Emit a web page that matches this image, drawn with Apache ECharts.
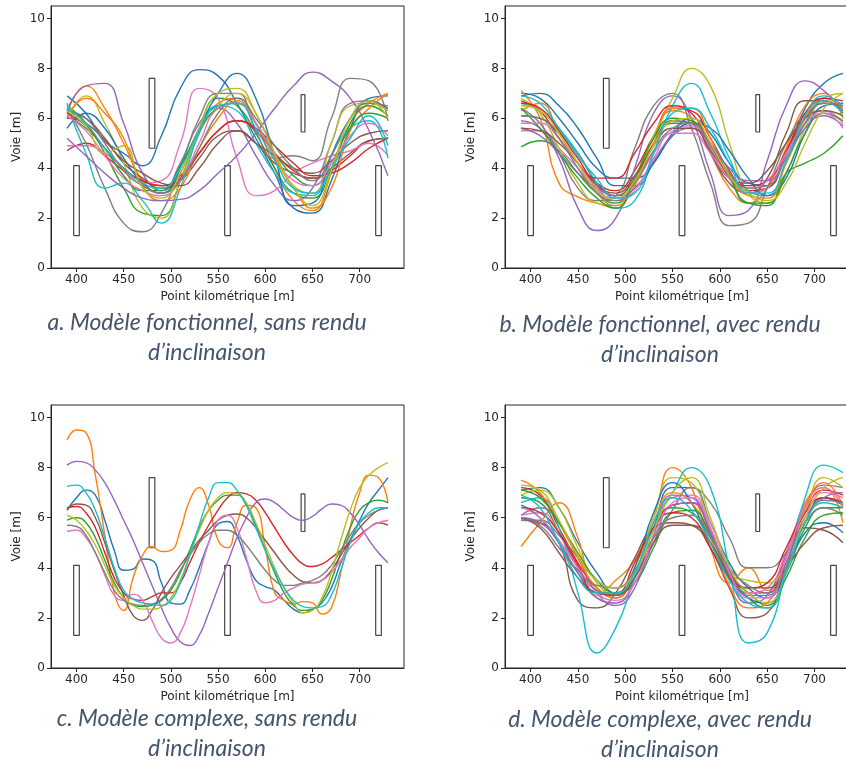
<!DOCTYPE html>
<html>
<head>
<meta charset="utf-8">
<script src="https://cdn.jsdelivr.net/npm/echarts@6/dist/echarts.min.js"></script>
<style>
  html, body { margin: 0; padding: 0; background: #fff; }
  #chart { width: 846px; height: 760px; }
</style>
</head>
<body>
<div id="chart"></div>
<script>
// abscisses communes (point kilometrique)
var xs20 = [390, 410, 430, 450, 470, 490, 510, 530, 550, 570, 590, 610, 630, 650, 670, 690, 710, 730];
var xs10 = [390, 400, 410, 420, 430, 440, 450, 460, 470, 480, 490, 500, 510, 520, 530, 540, 550, 560,
            570, 580, 590, 600, 610, 620, 630, 640, 650, 660, 670, 680, 690, 700, 710, 720, 730];

var xTicks = [400, 450, 500, 550, 600, 650, 700];
var yTicks = [0, 2, 4, 6, 8, 10];

// obstacles (cones)
var obstX0 = [397, 477, 557, 638, 717];
var obstX1 = [403, 483, 563, 642, 723];
var obstY0 = [1.3, 4.8, 1.3, 5.45, 1.3];
var obstY1 = [4.1, 7.6, 4.1, 6.95, 4.1];

// a. modele fonctionnel, sans rendu d'inclinaison
var voieA = [
  [6.9, 6.2, 5.1, 4.6, 4.1, 5.3, 7.2, 7.95, 7.7, 6.6, 5.2, 3.8, 2.4, 2.2, 3.5, 5.6, 6.8, 6.9],
  [6.2, 7.3, 6.4, 5.0, 3.5, 3.0, 3.8, 5.5, 6.6, 6.8, 5.8, 4.0, 2.7, 2.3, 3.8, 5.8, 6.6, 7.0],
  [6.5, 5.8, 4.6, 3.2, 2.2, 2.1, 3.5, 5.6, 6.8, 6.5, 5.4, 4.0, 3.0, 2.8, 4.0, 5.8, 6.5, 6.1],
  [4.7, 5.0, 4.5, 3.9, 3.5, 3.3, 3.7, 4.6, 5.5, 5.9, 5.5, 4.6, 3.9, 3.6, 3.9, 4.5, 5.1, 5.2],
  [6.3, 7.3, 7.4, 5.8, 3.8, 3.1, 4.2, 5.8, 6.4, 5.8, 4.5, 3.3, 2.7, 3.2, 5.0, 6.6, 6.7, 6.3],
  [6.2, 6.0, 5.2, 4.2, 3.6, 3.2, 3.5, 4.4, 5.3, 5.5, 5.0, 4.2, 3.8, 3.6, 4.0, 4.6, 5.1, 5.2],
  [4.9, 4.9, 4.6, 4.0, 3.4, 3.5, 5.0, 7.2, 6.8, 4.4, 2.9, 3.1, 3.8, 4.2, 4.5, 4.7, 5.0, 4.5],
  [6.4, 5.0, 3.2, 1.8, 1.45, 2.2, 4.0, 6.0, 7.0, 7.0, 5.5, 4.4, 4.5, 4.3, 6.0, 7.6, 7.5, 5.9],
  [6.0, 6.9, 5.8, 4.2, 2.4, 2.0, 3.5, 5.4, 6.5, 7.0, 6.2, 4.6, 3.3, 3.0, 5.0, 6.5, 6.6, 6.3],
  [6.6, 4.6, 3.2, 3.4, 2.7, 1.8, 3.2, 5.4, 6.5, 6.3, 5.0, 3.8, 3.0, 2.9, 4.5, 5.6, 5.9, 4.4],
  [5.6, 6.2, 5.6, 4.4, 3.4, 3.0, 4.0, 5.6, 7.0, 7.8, 6.8, 4.5, 2.5, 2.6, 4.5, 6.0, 6.7, 6.4],
  [6.0, 6.8, 6.2, 5.2, 3.3, 2.7, 3.2, 4.8, 6.0, 6.7, 5.8, 4.4, 3.2, 2.4, 3.2, 5.5, 6.4, 7.0],
  [6.1, 5.6, 4.8, 3.7, 3.1, 3.1, 4.1, 5.5, 6.4, 6.6, 5.8, 4.6, 3.7, 3.3, 4.2, 5.6, 6.2, 6.0],
  [6.2, 5.7, 4.8, 4.0, 3.5, 3.3, 3.6, 4.6, 5.5, 5.9, 5.6, 4.9, 4.2, 3.7, 3.8, 4.2, 4.8, 5.2],
  [5.2, 4.5, 3.8, 3.2, 2.8, 2.7, 2.75, 3.1, 3.8, 4.5, 5.4, 6.4, 7.3, 7.85, 7.5, 6.8, 5.5, 3.7],
  [6.0, 5.8, 5.1, 4.3, 3.8, 3.4, 3.3, 4.0, 5.0, 5.5, 5.0, 4.5, 4.0, 3.8, 4.3, 5.0, 5.4, 5.5],
  [6.1, 5.5, 4.5, 3.6, 3.1, 2.9, 3.5, 5.0, 6.4, 6.6, 5.8, 4.5, 3.5, 3.3, 4.2, 5.3, 5.8, 5.3],
  [6.3, 6.0, 5.0, 3.9, 3.3, 3.0, 3.5, 4.8, 6.2, 6.8, 6.0, 4.9, 4.0, 3.5, 4.5, 6.0, 6.6, 6.5],
  [6.3, 5.7, 4.6, 4.9, 3.2, 2.8, 3.8, 5.6, 7.0, 7.2, 6.2, 4.6, 3.2, 2.5, 3.9, 6.0, 6.7, 6.0],
  [6.4, 5.8, 4.8, 4.0, 3.4, 3.2, 4.0, 5.5, 6.5, 6.6, 5.6, 4.3, 3.2, 3.0, 4.0, 5.2, 6.1, 4.9]
];

// b. modele fonctionnel, avec rendu d'inclinaison
var voieB = [
  [7.0, 6.8, 6.0, 5.0, 4.0, 3.6, 3.6, 4.2, 5.4, 6.0, 5.4, 4.2, 3.4, 3.3, 4.6, 6.4, 7.4, 7.8],
  [7.1, 6.0, 3.4, 2.85, 2.6, 2.4, 3.6, 5.2, 6.3, 6.0, 4.6, 3.2, 2.6, 3.2, 4.8, 6.5, 7.0, 6.0],
  [4.85, 5.1, 4.7, 3.8, 3.0, 2.6, 3.5, 4.9, 5.8, 5.8, 4.8, 3.6, 2.6, 2.5, 3.8, 4.2, 4.6, 5.3],
  [6.7, 6.3, 5.2, 4.2, 3.4, 3.1, 3.9, 5.3, 6.4, 6.3, 5.2, 3.9, 3.1, 3.2, 4.6, 6.0, 6.6, 6.5],
  [5.9, 5.6, 4.4, 2.4, 1.5, 2.0, 4.0, 6.2, 6.9, 6.0, 3.8, 2.1, 2.3, 4.3, 6.5, 7.5, 7.1, 6.3],
  [6.1, 6.0, 5.4, 4.6, 3.4, 2.9, 3.6, 5.0, 5.9, 5.8, 4.6, 3.4, 3.0, 3.6, 5.4, 6.7, 6.7, 6.2],
  [5.5, 5.5, 4.8, 4.0, 3.1, 2.8, 3.4, 4.6, 5.5, 5.7, 4.8, 3.7, 3.0, 3.2, 4.5, 5.8, 6.3, 5.8],
  [6.4, 5.8, 4.6, 3.2, 2.7, 2.9, 4.8, 6.5, 7.0, 5.6, 3.4, 1.7, 1.8, 3.2, 5.0, 6.2, 6.7, 6.3],
  [6.8, 6.2, 4.8, 3.4, 2.6, 2.5, 3.6, 5.3, 6.8, 8.0, 7.3, 5.0, 3.0, 2.6, 3.8, 5.6, 6.8, 7.0],
  [6.6, 6.3, 5.6, 4.6, 3.4, 2.4, 2.7, 4.6, 6.5, 7.4, 6.2, 4.4, 3.1, 2.9, 4.2, 5.8, 6.7, 6.2],
  [6.9, 7.0, 6.5, 5.6, 4.4, 3.3, 3.3, 4.2, 5.3, 5.8, 5.6, 4.7, 3.6, 2.9, 3.6, 5.4, 6.5, 6.6],
  [6.3, 6.6, 5.4, 4.2, 3.0, 2.5, 3.3, 5.0, 6.4, 6.4, 5.2, 3.7, 2.9, 2.8, 4.2, 6.0, 6.8, 6.4],
  [6.4, 5.6, 4.6, 3.6, 2.8, 2.4, 3.6, 5.2, 6.0, 5.9, 5.0, 3.7, 2.6, 2.6, 3.8, 5.4, 6.2, 5.9],
  [6.6, 6.4, 5.5, 4.4, 3.6, 3.6, 4.6, 5.8, 6.5, 6.2, 5.0, 3.7, 3.3, 3.5, 4.7, 6.2, 6.8, 6.7],
  [5.6, 5.3, 4.6, 3.8, 3.2, 2.9, 3.2, 4.3, 5.3, 5.6, 5.0, 4.0, 3.5, 3.5, 4.4, 5.6, 6.1, 5.7],
  [5.6, 5.5, 5.0, 4.2, 3.3, 3.0, 3.7, 4.9, 5.6, 5.6, 4.7, 3.6, 3.4, 3.9, 5.0, 6.0, 6.3, 6.1],
  [5.8, 5.8, 5.2, 4.2, 3.2, 2.7, 3.1, 4.4, 5.4, 5.4, 4.6, 3.6, 3.2, 3.5, 4.6, 5.8, 6.2, 5.6],
  [6.1, 6.0, 5.2, 4.0, 3.0, 2.7, 3.4, 4.7, 5.6, 5.8, 4.9, 3.8, 3.2, 3.3, 4.4, 5.8, 6.6, 6.5],
  [6.5, 6.3, 5.4, 4.2, 3.1, 2.8, 3.5, 4.9, 5.9, 6.0, 5.0, 3.7, 3.0, 2.7, 3.4, 5.0, 6.4, 7.0],
  [6.9, 6.6, 5.6, 4.5, 3.6, 2.8, 3.0, 4.6, 6.2, 6.4, 5.6, 4.2, 3.0, 3.0, 4.3, 6.1, 6.9, 6.5]
];

// c. modele complexe, sans rendu d'inclinaison (pas de 10 m)
var voieC = [
  [6.3, 6.8, 7.1, 6.9, 5.9, 4.7, 3.9, 3.95, 4.35, 4.3, 3.4, 2.6, 2.55, 3.1, 4.0, 5.0, 5.75, 5.85,
   5.3, 4.3, 3.5, 3.25, 3.1, 2.7, 2.35, 2.2, 2.35, 2.6, 3.2, 4.2, 5.1, 5.9, 6.6, 7.1, 7.6],
  [9.1, 9.5, 9.4, 7.7, 5.3, 3.0, 2.3, 3.6, 4.5, 4.85, 4.65, 4.7, 5.5, 6.7, 7.2, 6.5, 5.1, 4.8,
   5.8, 6.5, 6.4, 4.8, 3.0, 2.7, 2.55, 2.65, 2.6, 2.15, 2.4, 3.8, 5.6, 7.0, 7.7, 7.6, 6.6],
  [5.9, 6.0, 5.8, 5.2, 4.3, 3.4, 2.8, 2.5, 2.45, 2.5, 2.7, 3.1, 3.8, 4.7, 5.6, 6.3, 6.7, 6.9,
   6.9, 6.5, 5.7, 4.7, 3.8, 3.0, 2.5, 2.3, 2.35, 2.7, 3.5, 4.6, 5.6, 6.3, 6.6, 6.7, 6.6],
  [6.4, 6.45, 6.2, 5.6, 4.6, 3.6, 3.0, 2.75, 2.7, 2.85, 3.0, 3.0, 3.4, 4.2, 5.0, 5.7, 6.3, 6.8,
   7.0, 6.95, 6.7, 6.2, 5.6, 5.0, 4.5, 4.15, 4.05, 4.15, 4.4, 4.7, 5.0, 5.3, 5.6, 5.8, 5.7],
  [8.1, 8.25, 8.2, 7.9, 7.4, 6.7, 5.9, 5.1, 4.2, 3.3, 2.4, 1.6, 1.05, 0.9, 1.3, 2.2, 3.2, 4.2,
   5.2, 6.0, 6.6, 6.75, 6.6, 6.3, 6.0, 5.9, 6.05, 6.35, 6.55, 6.5, 6.2, 5.7, 5.1, 4.6, 4.2],
  [6.3, 6.55, 6.5, 6.0, 5.0, 3.9, 2.9, 2.1, 1.9, 2.3, 3.0, 3.6, 4.1, 4.6, 5.1, 5.5, 5.9, 6.1,
   6.15, 6.0, 5.6, 5.1, 4.6, 4.1, 3.7, 3.45, 3.4, 3.5, 3.9, 4.5, 5.1, 5.6, 6.0, 6.3, 6.4],
  [5.45, 5.5, 5.2, 4.6, 3.7, 2.9, 2.7, 2.95, 2.7, 1.9, 1.2, 1.0, 1.4, 2.4, 3.7, 5.0, 5.9, 6.1,
   5.6, 4.4, 3.1, 2.6, 2.7, 3.0, 3.2, 3.35, 3.4, 3.5, 3.8, 4.3, 4.8, 5.2, 5.6, 5.8, 5.9],
  [5.7, 5.65, 5.3, 4.6, 3.8, 3.1, 2.7, 2.55, 2.5, 2.55, 2.75, 3.2, 3.9, 4.5, 5.0, 5.35, 5.5, 5.5,
   5.3, 4.9, 4.4, 3.9, 3.5, 3.3, 3.3, 3.4, 3.5, 3.7, 4.1, 4.7, 5.3, 5.8, 6.1, 6.3, 6.4],
  [6.1, 5.9, 5.5, 4.9, 4.1, 3.3, 2.8, 2.5, 2.35, 2.35, 2.45, 2.8, 3.5, 4.5, 5.5, 6.3, 6.8, 7.0,
   6.95, 6.6, 5.8, 4.9, 4.0, 3.2, 2.6, 2.2, 2.3, 2.8, 3.8, 5.1, 6.3, 7.2, 7.7, 8.0, 8.2],
  [7.25, 7.3, 7.0, 6.3, 5.2, 4.0, 3.1, 2.75, 2.6, 2.55, 2.5, 2.7, 3.4, 4.5, 5.7, 6.8, 7.4, 7.4,
   7.1, 6.5, 5.6, 4.7, 3.9, 3.2, 2.7, 2.45, 2.4, 2.45, 2.9, 3.9, 5.0, 5.8, 6.2, 6.4, 6.4]
];

// d. modele complexe, avec rendu d'inclinaison
var voieD = [
  [7.1, 7.2, 6.4, 5.0, 3.8, 3.0, 3.6, 5.6, 7.2, 7.2, 5.8, 4.2, 3.2, 2.8, 4.0, 5.8, 6.8, 6.5],
  [4.85, 5.8, 6.6, 5.2, 2.9, 3.5, 4.3, 6.0, 8.0, 7.2, 4.8, 3.4, 4.0, 3.1, 4.2, 6.6, 7.2, 5.8],
  [6.8, 6.6, 5.4, 4.0, 3.1, 2.9, 3.8, 5.5, 6.4, 6.2, 5.0, 3.7, 3.0, 2.5, 3.8, 5.6, 6.4, 6.4],
  [7.2, 6.9, 5.6, 4.2, 3.2, 2.8, 3.8, 5.6, 6.5, 6.6, 5.4, 3.8, 3.0, 3.0, 4.5, 6.2, 7.1, 6.9],
  [6.1, 6.4, 5.8, 4.4, 3.0, 2.5, 3.2, 5.3, 6.9, 6.8, 5.4, 3.6, 2.6, 2.9, 4.6, 6.4, 7.3, 7.2],
  [5.9, 5.8, 5.0, 2.7, 2.4, 3.0, 4.4, 5.6, 5.8, 5.7, 4.8, 3.2, 2.0, 2.2, 4.0, 5.6, 5.5, 5.0],
  [6.1, 6.2, 5.4, 4.0, 2.8, 2.6, 3.6, 5.5, 6.8, 6.9, 5.8, 4.0, 3.0, 3.2, 4.6, 6.5, 7.2, 6.4],
  [5.9, 5.9, 5.3, 4.4, 3.5, 3.2, 3.8, 5.0, 6.3, 7.2, 6.6, 5.2, 4.0, 4.0, 4.6, 5.8, 6.4, 6.1],
  [6.9, 7.1, 6.4, 4.8, 3.4, 2.9, 4.0, 6.0, 7.6, 7.4, 5.6, 3.8, 3.5, 3.4, 4.2, 6.2, 7.6, 7.2],
  [6.6, 6.8, 5.6, 3.0, 0.6, 1.6, 3.6, 5.6, 7.0, 8.0, 7.2, 4.0, 1.0, 1.4, 4.0, 6.8, 8.1, 7.8],
  [6.5, 6.0, 5.0, 3.8, 3.0, 2.9, 4.0, 6.2, 7.4, 6.6, 5.0, 3.6, 2.8, 2.6, 3.8, 5.4, 5.8, 5.4],
  [7.5, 7.0, 5.8, 4.4, 3.2, 2.8, 3.8, 5.8, 7.0, 6.6, 5.2, 3.3, 2.4, 2.6, 4.4, 6.4, 7.4, 6.5],
  [7.1, 6.8, 5.8, 4.6, 3.5, 3.0, 3.4, 4.8, 6.2, 6.3, 5.3, 3.8, 2.8, 2.4, 3.6, 5.2, 6.1, 6.2],
  [6.4, 6.2, 5.4, 4.1, 3.0, 3.0, 4.2, 5.6, 6.2, 6.0, 4.8, 3.6, 3.2, 3.4, 4.8, 6.2, 6.8, 6.6],
  [6.0, 5.8, 5.0, 3.8, 2.8, 2.6, 3.4, 5.0, 6.5, 6.6, 5.5, 3.9, 2.9, 2.9, 4.2, 6.0, 6.8, 7.0],
  [6.0, 5.6, 4.6, 3.6, 3.0, 2.9, 3.6, 5.0, 5.7, 5.7, 5.0, 3.8, 3.2, 3.2, 4.0, 5.0, 5.6, 5.7],
  [6.4, 6.0, 5.1, 4.0, 3.0, 2.7, 3.4, 5.2, 6.6, 6.8, 5.6, 3.8, 2.8, 2.8, 4.4, 6.3, 7.0, 6.8],
  [6.0, 5.7, 4.8, 3.9, 3.3, 3.2, 3.9, 5.2, 6.0, 6.1, 5.2, 4.0, 3.3, 3.0, 4.0, 5.8, 6.7, 6.6],
  [7.3, 7.1, 5.9, 4.5, 3.5, 3.2, 3.8, 5.5, 7.0, 7.6, 6.0, 4.0, 3.0, 2.6, 3.8, 6.0, 7.2, 7.6],
  [6.9, 6.4, 5.0, 3.6, 3.0, 3.0, 3.8, 5.8, 6.8, 6.3, 5.0, 3.5, 2.6, 2.4, 3.8, 5.8, 6.6, 6.4]
];

var captions = [
  ['a. Modèle fonctionnel, sans rendu', 'd\u2019inclinaison'],
  ['b. Modèle fonctionnel, avec rendu', 'd\u2019inclinaison'],
  ['c. Modèle complexe, sans rendu', 'd\u2019inclinaison'],
  ['d. Modèle complexe, avec rendu', 'd\u2019inclinaison']
];

// couleurs matplotlib (tab10)
var palette = ['#1f77b4', '#ff7f0e', '#2ca02c', '#d62728', '#9467bd',
               '#8c564b', '#e377c2', '#7f7f7f', '#bcbd22', '#17becf'];

var chart = echarts.init(document.getElementById('chart'), null, { renderer: 'canvas' });

var grids = [
  { left: 51, top: 6, width: 353, height: 262 },
  { left: 505, top: 6, width: 354, height: 262 },
  { left: 51, top: 405, width: 353, height: 263 },
  { left: 505, top: 405, width: 354, height: 263 }
];
var capPos = [[207, 323, 353], [660, 325, 355], [207, 719, 749], [660, 720, 750]];

var axisColor = '#262626';
var xAxes = [], yAxes = [], series = [], graphics = [];

grids.forEach(function (g, i) {
  g.show = true;
  g.borderColor = axisColor;
  g.borderWidth = 1;
  g.containLabel = false;
  g.outerBoundsMode = 'none';

  xAxes.push({
    gridIndex: i, type: 'value', min: 373, max: 747,
    name: 'Point kilométrique [m]', nameLocation: 'middle', nameGap: 23,
    nameTextStyle: { fontSize: 12, color: axisColor },
    axisLine: { lineStyle: { color: axisColor, width: 1 } },
    axisTick: { customValues: xTicks, length: 4, lineStyle: { color: axisColor } },
    axisLabel: { customValues: xTicks, fontSize: 12, color: axisColor, margin: 6 },
    splitLine: { show: false }
  });
  yAxes.push({
    gridIndex: i, type: 'value', min: 0, max: 10.5,
    name: 'Voie [m]', nameLocation: 'middle', nameGap: 28,
    nameTextStyle: { fontSize: 12, color: axisColor },
    axisLine: { show: true, lineStyle: { color: axisColor, width: 1 } },
    axisTick: { show: true, customValues: yTicks, length: 4, lineStyle: { color: axisColor } },
    axisLabel: { customValues: yTicks, fontSize: 12, color: axisColor, margin: 6 },
    splitLine: { show: false }
  });

  // obstacles : rectangles fermes
  for (var k = 0; k < obstX0.length; k++) {
    series.push({
      type: 'line', xAxisIndex: i, yAxisIndex: i, silent: true,
      showSymbol: false, symbol: 'none', z: 1,
      lineStyle: { color: '#444', width: 1.2 },
      data: [[obstX0[k], obstY0[k]], [obstX1[k], obstY0[k]], [obstX1[k], obstY1[k]],
             [obstX0[k], obstY1[k]], [obstX0[k], obstY0[k]]]
    });
  }

  // legendes sous les figures
  graphics.push({
    type: 'text', x: capPos[i][0], y: capPos[i][1],
    style: { text: captions[i][0], align: 'center', verticalAlign: 'middle',
             fontSize: 23, fontStyle: 'italic', fontFamily: 'Lato', fill: '#44546a' }
  });
  graphics.push({
    type: 'text', x: capPos[i][0], y: capPos[i][2],
    style: { text: captions[i][1], align: 'center', verticalAlign: 'middle',
             fontSize: 23, fontStyle: 'italic', fontFamily: 'Lato', fill: '#44546a' }
  });
});

function addCurves(idx, xs, rows) {
  rows.forEach(function (ys, n) {
    series.push({
      type: 'line', xAxisIndex: idx, yAxisIndex: idx,
      showSymbol: false, symbol: 'none', smooth: 0.5, z: 2,
      lineStyle: { color: palette[n % 10], width: 1.4 },
      data: xs.map(function (x, j) { return [x, ys[j]]; })
    });
  });
}
addCurves(0, xs20, voieA);
addCurves(1, xs20, voieB);
addCurves(2, xs10, voieC);
addCurves(3, xs20, voieD);

chart.setOption({
  animation: false,
  backgroundColor: '#fff',
  textStyle: { fontFamily: 'DejaVu Sans' },
  grid: grids,
  xAxis: xAxes,
  yAxis: yAxes,
  series: series,
  graphic: graphics
});
</script>
</body>
</html>
